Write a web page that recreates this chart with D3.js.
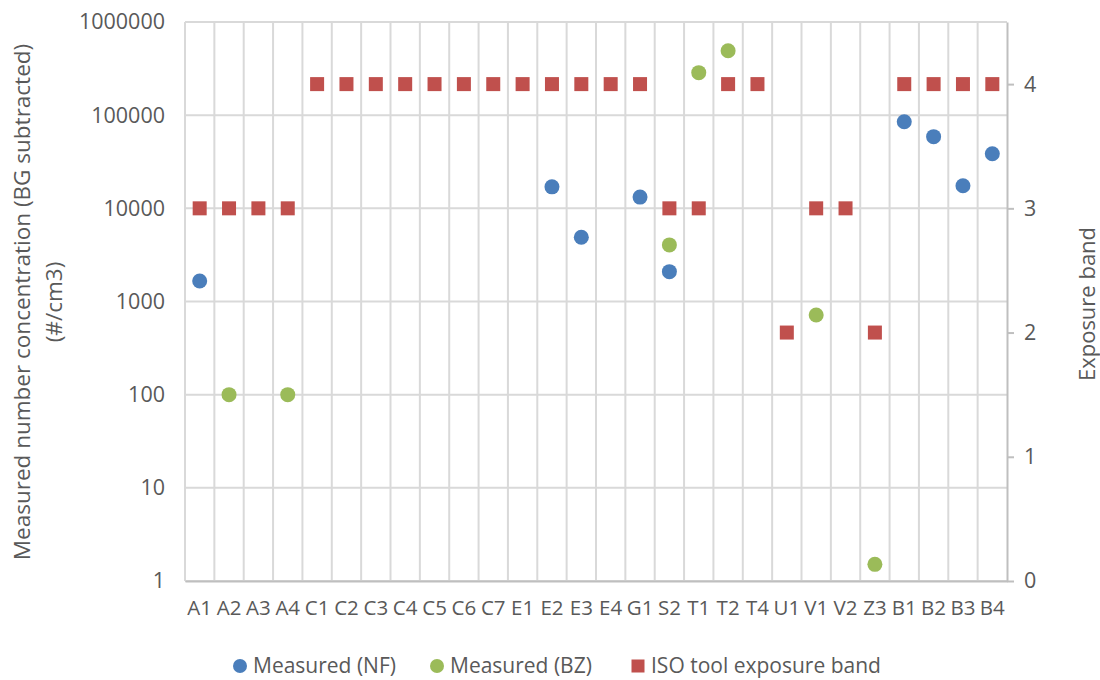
<!DOCTYPE html>
<html><head><meta charset="utf-8">
<script src="https://cdn.jsdelivr.net/npm/d3@7"></script>
<style>body{margin:0;background:#fff}svg{display:block}</style>
</head><body>
<svg id="c" width="1100" height="680"></svg>
<script>
const categories = ["A1","A2","A3","A4","C1","C2","C3","C4","C5","C6","C7","E1","E2","E3","E4","G1","S2","T1","T2","T4","U1","V1","V2","Z3","B1","B2","B3","B4"];
const measuredNF = [1660,null,null,null,null,null,null,null,null,null,null,null,17000,4900,null,13200,2090,null,null,null,null,null,null,null,85000,58800,17500,38600];
const measuredBZ = [null,100,null,100,null,null,null,null,null,null,null,null,null,null,null,null,4050,286000,492000,null,null,716,null,1.51,null,null,null,null];
const isoBand = [3,3,3,3,4,4,4,4,4,4,4,4,4,4,4,4,3,3,4,4,2,3,3,2,4,4,4,4];
const leftTicks = [1,10,100,1000,10000,100000,1000000];
const rightTicks = [0,1,2,3,4];
const seriesNames = ["Measured (NF)","Measured (BZ)","ISO tool exposure band"];
const colors = ["#4A7EBB","#9BBB59","#C0504D"];

const svg = d3.select("#c");
const font = "'Open Sans', sans-serif";
const txt = "#595959";
const L=185, R=1007, T=22, B=581;

const x = d3.scaleBand().domain(categories).range([L,R]).padding(0);
const yL = d3.scaleLog().domain([1,1000000]).range([B,T]);
const yR = d3.scaleLinear().domain([0,4.5]).range([B,T]);

// horizontal gridlines
svg.append("g").selectAll("line").data(leftTicks).join("line")
  .attr("x1",L).attr("x2",R).attr("y1",d=>yL(d)).attr("y2",d=>yL(d))
  .attr("stroke","#d9d9d9").attr("stroke-width",2);
// vertical gridlines
svg.append("g").selectAll("line").data(categories).join("line")
  .attr("x1",d=>x(d)).attr("x2",d=>x(d)).attr("y1",T).attr("y2",B)
  .attr("stroke","#d9d9d9").attr("stroke-width",2);

// bottom axis
const gx = svg.append("g").attr("transform",`translate(0,${B})`)
  .call(d3.axisBottom(x).tickSize(0).tickPadding(19));
gx.select(".domain").attr("stroke","#bfbfbf").attr("stroke-width",2);
gx.selectAll("text").attr("font-family",font).attr("font-size",20.5).attr("fill",txt);

// left axis
const gl = svg.append("g").attr("transform",`translate(${L},0)`)
  .call(d3.axisLeft(yL).tickValues(leftTicks).tickFormat(d3.format("d")).tickSize(0).tickPadding(20));
gl.select(".domain").remove();
gl.selectAll("text").attr("font-family",font).attr("font-size",21.5).attr("fill",txt);

// right axis
const gr = svg.append("g").attr("transform",`translate(${R},0)`)
  .call(d3.axisRight(yR).tickValues(rightTicks).tickFormat(d3.format("d")).tickSize(7).tickPadding(10).tickSizeOuter(0));
gr.select(".domain").attr("stroke","#bfbfbf").attr("stroke-width",2);
gr.selectAll(".tick line").attr("stroke","#bfbfbf").attr("stroke-width",2);
gr.selectAll("text").attr("font-family",font).attr("font-size",21.5).attr("fill",txt);

// axis titles
const lt = svg.append("text").attr("transform","translate(30,302) rotate(-90)")
  .attr("text-anchor","middle").attr("font-family",font).attr("font-size",22.5).attr("fill",txt);
lt.append("tspan").attr("x",0).attr("dy",0).text("Measured  number concentration (BG subtracted)");
lt.append("tspan").attr("x",0).attr("dy",32).text("(#/cm3)");
svg.append("text").attr("transform","translate(1095,304) rotate(-90)")
  .attr("text-anchor","middle").attr("font-family",font).attr("font-size",22).attr("fill",txt)
  .text("Exposure band");

const cx = i => x(categories[i]) + x.bandwidth()/2;
// ISO squares
svg.append("g").selectAll("rect").data(isoBand.map((v,i)=>({v,i}))).join("rect")
  .attr("x",d=>cx(d.i)-7).attr("y",d=>yR(d.v)-7).attr("width",14).attr("height",14)
  .attr("fill",colors[2]);
// NF circles
svg.append("g").selectAll("circle").data(measuredNF.map((v,i)=>({v,i})).filter(d=>d.v!=null)).join("circle")
  .attr("cx",d=>cx(d.i)).attr("cy",d=>yL(d.v)).attr("r",7.5).attr("fill",colors[0]);
// BZ circles
svg.append("g").selectAll("circle").data(measuredBZ.map((v,i)=>({v,i})).filter(d=>d.v!=null)).join("circle")
  .attr("cx",d=>cx(d.i)).attr("cy",d=>yL(d.v)).attr("r",7.5).attr("fill",colors[1]);

// legend
const lg = svg.append("g").attr("font-family",font).attr("font-size",21).attr("fill",txt);
const lx = [240,437,638];
seriesNames.forEach((n,i)=>{
  if(i<2) lg.append("circle").attr("cx",lx[i]).attr("cy",666).attr("r",7).attr("fill",colors[i]);
  else lg.append("rect").attr("x",lx[i]-6.5).attr("y",659.5).attr("width",13).attr("height",13).attr("fill",colors[i]);
  lg.append("text").attr("x",lx[i]+13).attr("y",666).attr("dy","0.35em").text(n);
});
</script>
</body></html>
